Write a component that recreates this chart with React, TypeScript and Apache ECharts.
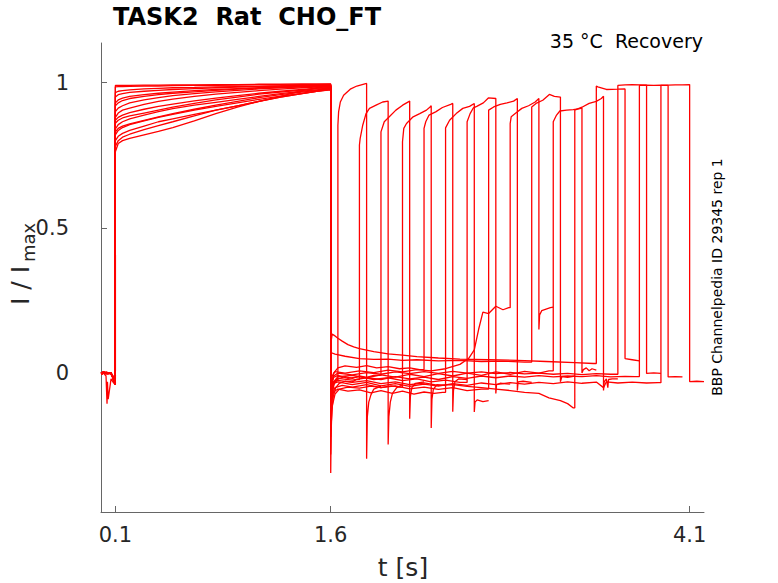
import React, { useEffect, useRef } from "react";
import * as echarts from "echarts";

// ---------- data ----------
const X_TICKS = [0.1, 1.6, 4.1];
const Y_TICKS = [0, 0.5, 1];

// pre-pulse baseline (0 .. 0.1 s)
const BASE_T = [0, 0.02, 0.035, 0.042, 0.045, 0.05, 0.07, 0.09, 0.1];
const BASE_A = [0.003, -0.002, -0.01, -0.105, -0.03, -0.09, -0.02, -0.035, -0.03];
const BASE_B = [0, 0.004, -0.002, 0.003, -0.001, 0.002, -0.004, -0.015, -0.02];
const BASE_C = [-0.004, 0, 0.003, -0.003, 0.002, -0.002, 0.002, -0.028, -0.04];
const BASELINES = [BASE_A, BASE_B, BASE_C];
const BASE_OF = [0, 1, 2, 1, 2, 1, 2, 1, 2, 1, 2, 1, 2, 1, 2, 1];

// first pulse (0.1 .. 1.6 s)
const P1_T = [0.1, 0.12, 0.15, 0.2, 0.3, 0.4, 0.5, 0.65, 0.8, 0.95, 1.1, 1.25, 1.4, 1.5, 1.6];
const P1_LEVELS = [
  [0.965, 0.97, 0.972, 0.975, 0.978, 0.98, 0.982, 0.983, 0.985, 0.986, 0.987, 0.988, 0.99, 0.99, 0.99],
  [0.8, 0.815, 0.825, 0.835, 0.85, 0.865, 0.875, 0.89, 0.905, 0.92, 0.935, 0.95, 0.962, 0.97, 0.978],
  [0.88, 0.895, 0.905, 0.912, 0.925, 0.935, 0.943, 0.952, 0.96, 0.966, 0.972, 0.977, 0.982, 0.984, 0.985],
  [0.762, 0.79, 0.8, 0.808, 0.82, 0.832, 0.845, 0.868, 0.893, 0.915, 0.935, 0.952, 0.972, 0.982, 0.987],
  [0.92, 0.93, 0.938, 0.945, 0.952, 0.958, 0.963, 0.968, 0.973, 0.977, 0.981, 0.984, 0.987, 0.989, 0.99],
  [0.84, 0.855, 0.865, 0.875, 0.888, 0.9, 0.91, 0.922, 0.932, 0.942, 0.952, 0.962, 0.97, 0.975, 0.98],
  [0.985, 0.986, 0.986, 0.987, 0.988, 0.988, 0.989, 0.99, 0.99, 0.991, 0.992, 0.992, 0.993, 0.993, 0.994],
  [0.86, 0.87, 0.878, 0.885, 0.895, 0.905, 0.915, 0.928, 0.94, 0.95, 0.96, 0.967, 0.974, 0.978, 0.98],
  [0.78, 0.8, 0.812, 0.822, 0.838, 0.852, 0.865, 0.885, 0.905, 0.92, 0.935, 0.95, 0.962, 0.97, 0.975],
  [0.9, 0.912, 0.92, 0.93, 0.94, 0.948, 0.955, 0.962, 0.968, 0.973, 0.978, 0.982, 0.985, 0.987, 0.988],
  [0.82, 0.835, 0.845, 0.855, 0.868, 0.88, 0.89, 0.905, 0.918, 0.93, 0.942, 0.953, 0.963, 0.97, 0.976],
  [0.95, 0.958, 0.962, 0.966, 0.97, 0.973, 0.976, 0.979, 0.982, 0.984, 0.986, 0.988, 0.99, 0.99, 0.991],
  [0.87, 0.88, 0.888, 0.896, 0.908, 0.918, 0.926, 0.937, 0.946, 0.955, 0.963, 0.97, 0.976, 0.98, 0.983],
  [0.99, 0.99, 0.99, 0.99, 0.991, 0.991, 0.992, 0.992, 0.993, 0.993, 0.994, 0.994, 0.995, 0.995, 0.995],
  [0.83, 0.842, 0.85, 0.858, 0.87, 0.882, 0.893, 0.908, 0.922, 0.935, 0.948, 0.958, 0.967, 0.973, 0.978],
  [0.93, 0.94, 0.946, 0.952, 0.958, 0.963, 0.967, 0.972, 0.976, 0.979, 0.982, 0.985, 0.987, 0.988, 0.989],
];

// tails between the pulses: [t, I/Imax]
const TAILS = [
  [[1.6, -0.22], [1.604, -0.12], [1.612, -0.065], [1.625, -0.035], [1.64, -0.022]],
  [[1.6, -0.344], [1.603, -0.2], [1.608, -0.13], [1.618, -0.08], [1.635, -0.05], [1.66, -0.035], [1.7, -0.028], [1.75, -0.03], [1.78, -0.022]],
  [[1.6, -0.15], [1.605, -0.08], [1.62, -0.04], [1.65, -0.02], [1.7, -0.012], [1.75, -0.018], [1.8, -0.01], [1.85, -0.015], [1.9, -0.008]],
  [[1.6, -0.28], [1.604, -0.17], [1.612, -0.11], [1.63, -0.072], [1.66, -0.055], [1.72, -0.048], [1.8, -0.052], [1.88, -0.045], [1.95, -0.05], [2.02, -0.044], [2.08, -0.048]],
  [[1.6, -0.12], [1.605, -0.05], [1.62, 0.0], [1.65, 0.018], [1.7, 0.025], [1.78, 0.02], [1.85, 0.026], [1.92, 0.018], [2.0, 0.022], [2.08, 0.015], [2.15, 0.018], [2.22, 0.012]],
  [[1.6, -0.18], [1.605, -0.1], [1.62, -0.065], [1.65, -0.055], [1.72, -0.062], [1.8, -0.058], [1.88, -0.068], [1.95, -0.06], [2.03, -0.07], [2.1, -0.062], [2.18, -0.072], [2.25, -0.065], [2.32, -0.07], [2.38, -0.066]],
  [[1.6, -0.1], [1.605, -0.045], [1.62, -0.015], [1.65, -0.008], [1.72, -0.018], [1.8, -0.012], [1.9, -0.022], [2.0, -0.016], [2.1, -0.026], [2.2, -0.02], [2.3, -0.03], [2.4, -0.024], [2.5, -0.032]],
  [[1.6, -0.2], [1.604, -0.11], [1.612, -0.07], [1.63, -0.05], [1.68, -0.042], [1.75, -0.048], [1.85, -0.04], [1.95, -0.05], [2.05, -0.044], [2.15, -0.054], [2.25, -0.048], [2.35, -0.056], [2.45, -0.05], [2.55, -0.06], [2.65, -0.055]],
  [[1.6, -0.06], [1.61, -0.01], [1.63, 0.005], [1.7, 0.0], [1.8, 0.008], [1.9, 0.002], [2.0, 0.01], [2.1, 0.004], [2.2, 0.012], [2.3, 0.008], [2.4, 0.015], [2.5, 0.03], [2.56, 0.05], [2.6, 0.08], [2.63, 0.15], [2.66, 0.21], [2.7, 0.205], [2.75, 0.23], [2.8, 0.218], [2.84, 0.225]],
  [[1.6, 0.04], [1.605, 0.07], [1.63, 0.065], [1.7, 0.058], [1.8, 0.05], [1.9, 0.047], [2.0, 0.048], [2.1, 0.044], [2.2, 0.046], [2.35, 0.042], [2.5, 0.044], [2.65, 0.04], [2.8, 0.041], [2.95, 0.038]],
  [[1.6, -0.14], [1.605, -0.07], [1.62, -0.03], [1.65, -0.012], [1.75, -0.008], [1.85, -0.016], [1.95, -0.006], [2.05, -0.014], [2.15, -0.004], [2.25, -0.012], [2.35, -0.002], [2.45, -0.01], [2.55, 0.0], [2.65, -0.008], [2.75, 0.004], [2.85, -0.004], [2.95, 0.006], [3.05, 0.0], [3.12, 0.008]],
  [[1.6, -0.1], [1.605, -0.05], [1.62, -0.03], [1.65, -0.025], [1.75, -0.032], [1.85, -0.026], [1.95, -0.036], [2.05, -0.03], [2.15, -0.04], [2.25, -0.034], [2.35, -0.042], [2.45, -0.04], [2.55, -0.046], [2.65, -0.05], [2.75, -0.055], [2.85, -0.06], [2.95, -0.066], [3.05, -0.07], [3.12, -0.085], [3.2, -0.095], [3.25, -0.105], [3.29, -0.12]],
  [[1.6, 0.1], [1.61, 0.134], [1.63, 0.128], [1.65, 0.12], [1.68, 0.11], [1.72, 0.098], [1.76, 0.09], [1.8, 0.084], [1.9, 0.074], [2.0, 0.066], [2.1, 0.062], [2.2, 0.057], [2.35, 0.052], [2.5, 0.048], [2.7, 0.046], [2.9, 0.044], [3.1, 0.04], [3.3, 0.036], [3.43, 0.033]],
  [[1.6, -0.08], [1.605, -0.035], [1.62, -0.01], [1.65, 0.0], [1.75, -0.006], [1.85, 0.002], [1.95, -0.004], [2.05, 0.004], [2.15, -0.002], [2.25, 0.005], [2.35, -0.001], [2.45, 0.006], [2.55, 0.0], [2.65, 0.004], [2.75, -0.002], [2.85, 0.002], [2.95, -0.003], [3.05, 0.0], [3.15, -0.004], [3.25, -0.001], [3.35, -0.005], [3.45, -0.002], [3.55, -0.004]],
  [[1.6, -0.16], [1.605, -0.08], [1.62, -0.035], [1.65, -0.018], [1.75, -0.024], [1.85, -0.016], [1.95, -0.022], [2.05, -0.012], [2.15, -0.02], [2.25, -0.014], [2.35, -0.022], [2.45, -0.012], [2.55, -0.018], [2.65, -0.01], [2.75, -0.016], [2.85, -0.01], [2.95, -0.014], [3.05, -0.009], [3.15, -0.013], [3.25, -0.01], [3.35, -0.012], [3.45, -0.009], [3.55, -0.013], [3.65, -0.011], [3.72, -0.012]],
  [[1.6, -0.09], [1.605, -0.05], [1.62, -0.035], [1.65, -0.03], [1.75, -0.04], [1.85, -0.032], [1.95, -0.044], [2.05, -0.036], [2.15, -0.046], [2.25, -0.038], [2.35, -0.045], [2.45, -0.036], [2.55, -0.042], [2.65, -0.034], [2.75, -0.04], [2.85, -0.033], [2.95, -0.038], [3.05, -0.032], [3.15, -0.036], [3.25, -0.03], [3.35, -0.035], [3.45, -0.031], [3.5, -0.05], [3.52, -0.03], [3.6, -0.034], [3.7, -0.031], [3.8, -0.034], [3.88, -0.033]],
];

// second pulse start times (s) and durations
const P2_START = [1.65, 1.8, 1.95, 2.1, 2.25, 2.4, 2.55, 2.7, 2.85, 3.0, 3.15, 3.3, 3.45, 3.6, 3.75, 3.9];
const P2_LENGTH = 0.2;

// second pulse: [time after pulse start, I/Imax]
const P2_SHAPES = [
  [[0, 0.853], [0.005, 0.899], [0.017, 0.933], [0.04, 0.956], [0.086, 0.977], [0.132, 0.988], [0.2, 0.997]],
  [[0, 0.785], [0.005, 0.807], [0.023, 0.853], [0.046, 0.893], [0.07, 0.911], [0.116, 0.922], [0.162, 0.933], [0.2, 0.936]],
  [[0, 0.83], [0.023, 0.865], [0.058, 0.882], [0.104, 0.905], [0.151, 0.922], [0.2, 0.936]],
  [[0, 0.796], [0.009, 0.842], [0.028, 0.859], [0.074, 0.882], [0.12, 0.893], [0.167, 0.905], [0.19, 0.915], [0.2, 0.92]],
  [[0, 0.842], [0.012, 0.865], [0.035, 0.888], [0.081, 0.899], [0.128, 0.914], [0.186, 0.925], [0.2, 0.928]],
  [[0, 0.844], [0.028, 0.87], [0.074, 0.893], [0.12, 0.911], [0.167, 0.918], [0.2, 0.928]],
  [[0, 0.865], [0.021, 0.893], [0.044, 0.913], [0.067, 0.918], [0.113, 0.93], [0.148, 0.947], [0.2, 0.945]],
  [[0, 0.905], [0.035, 0.916], [0.081, 0.925], [0.128, 0.93], [0.174, 0.936], [0.2, 0.945]],
  [[0, 0.859], [0.007, 0.882], [0.035, 0.893], [0.081, 0.911], [0.128, 0.92], [0.174, 0.933], [0.2, 0.945]],
  [[0, 0.916], [0.03, 0.928], [0.077, 0.939], [0.123, 0.959], [0.158, 0.952], [0.2, 0.95]],
  [[0, 0.865], [0.023, 0.888], [0.046, 0.902], [0.093, 0.905], [0.139, 0.907], [0.186, 0.91], [0.2, 0.913]],
  [[0, 0.905], [0.05, 0.915], [0.1, 0.928], [0.15, 0.935], [0.185, 0.945], [0.2, 0.953]],
  [[0, 0.988], [0.01, 0.985], [0.07, 0.976], [0.15, 0.977], [0.2, 0.978]],
  [[0, 0.99], [0.05, 0.992], [0.1, 0.993], [0.15, 0.992], [0.2, 0.991]],
  [[0, 0.99], [0.05, 0.991], [0.1, 0.99], [0.15, 0.991], [0.2, 0.99]],
  [[0, 0.99], [0.05, 0.991], [0.1, 0.992], [0.15, 0.992], [0.2, 0.993]],
];

// after the second pulse: [time after pulse end, I/Imax]
const POST_SHAPES = [
  [[0, -0.295], [0.005, -0.15], [0.015, -0.1], [0.03, -0.075], [0.05, -0.055], [0.1, -0.045]],
  [[0, -0.246], [0.005, -0.15], [0.015, -0.1], [0.03, -0.07], [0.06, -0.05], [0.1, -0.04]],
  [[0, -0.157], [0.005, -0.08], [0.015, -0.05], [0.04, -0.035], [0.1, -0.03]],
  [[0, -0.189], [0.005, -0.09], [0.015, -0.055], [0.04, -0.04], [0.1, -0.042]],
  [[0, -0.133], [0.005, -0.06], [0.015, -0.03], [0.04, -0.02], [0.1, -0.022]],
  [[0, -0.134], [0.005, -0.1], [0.02, -0.092], [0.06, -0.098], [0.1, -0.095]],
  [[0, -0.07], [0.005, -0.04], [0.03, -0.035], [0.1, -0.038]],
  [[0, -0.06], [0.005, -0.03], [0.04, -0.028], [0.1, -0.032]],
  [[0, 0.15], [0.005, 0.2], [0.02, 0.215], [0.05, 0.22], [0.08, 0.225], [0.1, 0.227]],
  [[0, -0.03], [0.01, -0.012], [0.05, -0.015], [0.1, -0.01]],
  [[0, 0.0], [0.01, 0.012], [0.03, 0.018], [0.05, 0.008], [0.07, 0.015], [0.1, 0.01]],
  [[0, -0.06], [0.005, -0.03], [0.02, -0.02], [0.03, -0.05], [0.035, -0.022], [0.06, -0.02], [0.1, -0.02]],
  [[0, 0.05], [0.05, 0.046], [0.1, 0.042]],
  [[0, -0.001], [0.05, 0.001], [0.1, -0.001]],
  [[0, -0.013], [0.05, -0.012], [0.1, -0.013]],
  [[0, -0.029], [0.05, -0.028], [0.1, -0.029]],
];

const TITLE = "TASK2  Rat  CHO_FT";
const SUBTITLE = "35 °C  Recovery";
const SIDE_NOTE = "BBP Channelpedia ID 29345 rep 1";
const X_NAME = "t [s]";
const Y_NAME_MAIN = "I / I";
const Y_NAME_SUB = "max";

// ---------- build ----------
const r4 = (v: number) => Math.round(v * 10000) / 10000;

function buildTrace(k: number): number[][] {
  const pts: number[][] = [];
  const base = BASELINES[BASE_OF[k]];
  BASE_T.forEach((t, i) => pts.push([t, base[i]]));
  P1_T.forEach((t, i) => pts.push([t, P1_LEVELS[k][i]]));
  const tail = TAILS[k];
  tail.forEach((p) => pts.push([p[0], p[1]]));
  const t2 = P2_START[k];
  pts.push([t2, tail[tail.length - 1][1]]);
  P2_SHAPES[k].forEach(([dt, y]) => pts.push([r4(t2 + dt), y]));
  const t3 = t2 + P2_LENGTH;
  POST_SHAPES[k].forEach(([dt, y]) => pts.push([r4(t3 + dt), y]));
  return pts;
}

const FONT = "'DejaVu Sans', sans-serif";

export default function App() {
  const ref = useRef<HTMLDivElement>(null);
  useEffect(() => {
    document.body.style.margin = "0";
    if (!ref.current) return;
    const chart = echarts.init(ref.current, null, { renderer: "svg" });
    const series = P2_START.map((_, k) => ({
      type: "line",
      data: buildTrace(k),
      showSymbol: false,
      symbol: "none",
      silent: true,
      lineStyle: { color: "#ff0000", width: 1.3 },
      z: 2,
    }));
    chart.setOption({
      animation: false,
      backgroundColor: "#ffffff",
      grid: { left: 101, right: 74, top: 43, bottom: 71, outerBoundsMode: "none" },
      xAxis: {
        type: "value",
        min: 0,
        max: 4.2,
        axisLine: { show: true, onZero: false, lineStyle: { color: "#666666", width: 1 } },
        axisTick: { show: true, inside: true, length: 6, customValues: X_TICKS, lineStyle: { color: "#666666" } },
        axisLabel: {
          customValues: X_TICKS,
          formatter: (v: number) => String(v),
          color: "#262626",
          fontFamily: FONT,
          fontSize: 21,
          margin: 12,
        },
        splitLine: { show: false },
      },
      yAxis: {
        type: "value",
        min: -0.478,
        max: 1.136,
        axisLine: { show: true, onZero: false, lineStyle: { color: "#666666", width: 1 } },
        axisTick: { show: true, inside: true, length: 6, customValues: Y_TICKS, lineStyle: { color: "#666666" } },
        axisLabel: {
          customValues: Y_TICKS,
          formatter: (v: number) => String(v),
          color: "#262626",
          fontFamily: FONT,
          fontSize: 21,
          margin: 32,
        },
        splitLine: { show: false },
      },
      graphic: [
        {
          type: "text",
          left: 113,
          top: 5,
          style: { text: TITLE, fill: "#000000", font: `bold 24px ${FONT}` },
        },
        {
          type: "text",
          x: 703,
          y: 41,
          style: { text: SUBTITLE, fill: "#000000", font: `19px ${FONT}`, textAlign: "right", textVerticalAlign: "middle", align: "right", verticalAlign: "middle" },
        },
        {
          type: "text",
          x: 717,
          y: 277,
          rotation: Math.PI / 2,
          style: { text: SIDE_NOTE, fill: "#000000", font: `14px ${FONT}`, textAlign: "center", textVerticalAlign: "middle", align: "center", verticalAlign: "middle" },
        },
        {
          type: "text",
          x: 403,
          y: 567,
          style: { text: X_NAME, fill: "#262626", font: `25px ${FONT}`, textAlign: "center", textVerticalAlign: "middle", align: "center", verticalAlign: "middle" },
        },
        {
          type: "group",
          x: 20,
          y: 305,
          rotation: Math.PI / 2,
          children: [
            {
              type: "text",
              x: 0,
              y: 0,
              style: { text: Y_NAME_MAIN, fill: "#262626", font: `25px ${FONT}`, textAlign: "left", textVerticalAlign: "middle", align: "left", verticalAlign: "middle" },
            },
            {
              type: "text",
              x: 43,
              y: 8,
              style: { text: Y_NAME_SUB, fill: "#262626", font: `18px ${FONT}`, textAlign: "left", textVerticalAlign: "middle", align: "left", verticalAlign: "middle" },
            },
          ],
        },
      ],
      series,
    });
    return () => chart.dispose();
  }, []);
  return <div ref={ref} style={{ width: 778, height: 583, overflow: "hidden" }} />;
}
